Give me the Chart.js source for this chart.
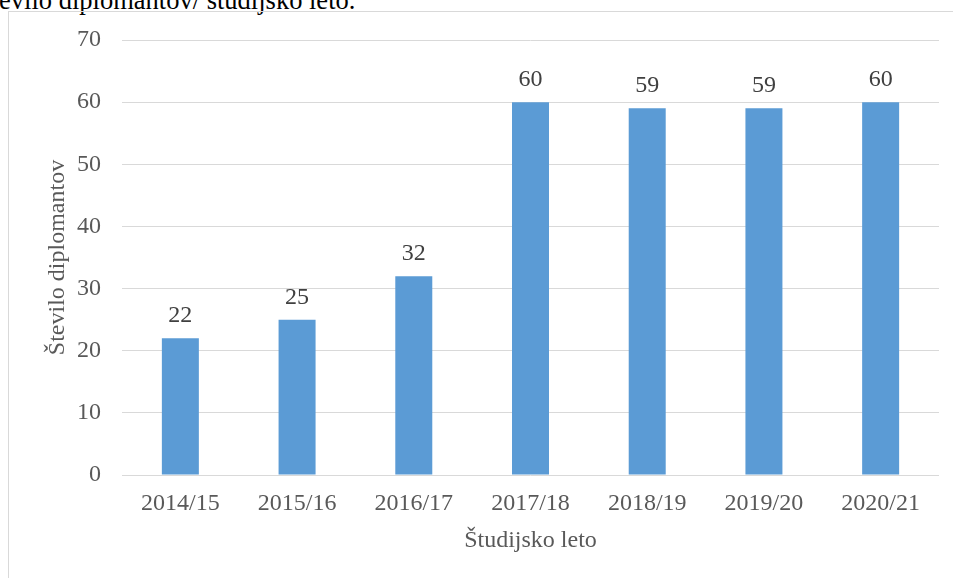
<!DOCTYPE html>
<html>
<head>
<meta charset="utf-8">
<script src="https://cdn.jsdelivr.net/npm/chart.js@4.4.1/dist/chart.umd.min.js"></script>
<style>
  html, body { margin: 0; padding: 0; background: #fff; overflow: hidden; }
  body { width: 953px; height: 578px; position: relative; }
  #caption {
    position: absolute; left: -23px; top: -13px;
    font: 26.5px "Liberation Serif", serif; line-height: 26.5px; color: #000;
    white-space: nowrap;
  }
  #frame {
    position: absolute; left: 8px; top: 11px; width: 960px; height: 580px;
    border: 1px solid #D9D9D9;
  }
  #wrap { position: absolute; left: 9px; top: 12px; width: 944px; height: 566px; }
</style>
</head>
<body>
<div id="caption">Število diplomantov/ študijsko leto.</div>
<div id="frame"></div>
<div id="wrap"><canvas id="myChart"></canvas></div>
<script>
const years = ["2014/15", "2015/16", "2016/17", "2017/18", "2018/19", "2019/20", "2020/21"];
const graduates = [22, 25, 32, 60, 59, 59, 60];
const yTicks = [0, 10, 20, 30, 40, 50, 60, 70];

const fontFamily = "'Liberation Serif', serif";

// numbers above the bars
const barLabels = {
  id: "barLabels",
  afterDatasetsDraw(chart) {
    const ctx = chart.ctx;
    const meta = chart.getDatasetMeta(0);
    ctx.save();
    ctx.font = `24px ${fontFamily}`;
    ctx.fillStyle = "#404040";
    ctx.textAlign = "center";
    ctx.textBaseline = "alphabetic";
    meta.data.forEach((bar, i) => {
      ctx.fillText(graduates[i], bar.x, bar.y - 16);
    });
    ctx.restore();
  },
};

let ctx = document.getElementById("myChart").getContext("2d");
let chart = new Chart(ctx, {
  type: "bar",
  data: {
    labels: years,
    datasets: [
      {
        data: graduates,
        backgroundColor: "#5B9BD5",
        borderWidth: 0,
        barPercentage: 0.317,
        categoryPercentage: 1,
      },
    ],
  },
  options: {
    responsive: true,
    maintainAspectRatio: false,
    animation: false,
    layout: { padding: { left: 0, right: 14, top: 28, bottom: 0 } },
    plugins: {
      legend: { display: false },
      tooltip: { enabled: false },
    },
    scales: {
      x: {
        grid: { display: false, drawTicks: false },
        border: { display: false },
        ticks: {
          color: "#595959",
          padding: 14,
          font: { family: fontFamily, size: 24 },
          maxRotation: 0,
        },
        title: {
          display: true,
          text: "Študijsko leto",
          color: "#595959",
          font: { family: fontFamily, size: 24 },
          padding: { top: 0, bottom: 23 },
        },
        afterFit(scale) {
          scale.height = 103;
        },
      },
      y: {
        min: 0,
        max: 70,
        grid: { color: "#D9D9D9", lineWidth: 1, drawTicks: false },
        border: { display: false },
        afterBuildTicks(scale) {
          scale.ticks = yTicks.map((v) => ({ value: v }));
        },
        ticks: {
          color: "#595959",
          padding: 21,
          font: { family: fontFamily, size: 24 },
        },
        title: {
          display: true,
          text: "Število diplomantov",
          color: "#595959",
          font: { family: fontFamily, size: 24 },
          padding: { top: 34, bottom: 0 },
        },
        afterFit(scale) {
          scale.width = 113;
          scale.paddingTop = 0;
          scale.paddingBottom = 0;
        },
      },
    },
  },
  plugins: [barLabels],
});
</script>
</body>
</html>
